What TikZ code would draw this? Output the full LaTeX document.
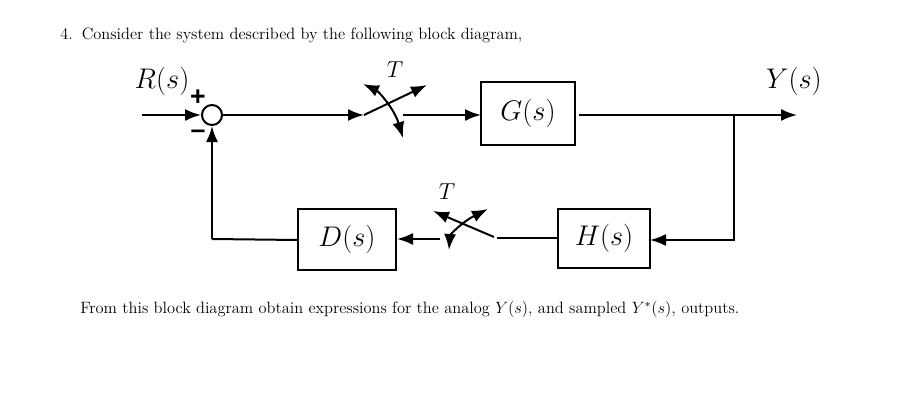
\RequirePackage{fix-cm}
\documentclass[tikz,border=0pt]{standalone}
\usepackage[no-math]{fontspec}
\newfontfamily\signfont{Liberation Sans}
\usetikzlibrary{arrows.meta}
\DeclareMathSizes{21.3}{21.3}{15}{11}
\DeclareMathSizes{17.3}{17.3}{12}{9}
\DeclareMathSizes{12.3}{12.3}{8.6}{6.2}
\begin{document}
\begin{tikzpicture}[x=0.75pt,y=-0.75pt,
  blockbox/.style={draw,line width=1.5pt,inner sep=0pt,font=\fontsize{21.3}{26}\selectfont},
  wire/.style={line width=1.5pt},
  arr/.style={wire,-{Latex[length=12pt,width=9pt]}},
  dblarr/.style={wire,{Latex[length=12pt,width=9pt]}-{Latex[length=12pt,width=9pt]}},
  bodytext/.style={inner sep=0pt,anchor=base west,font=\fontsize{12.3}{14}\selectfont},
  mathlabel/.style={inner sep=0pt,font=\fontsize{21.3}{26}\selectfont},
  smalllabel/.style={inner sep=0pt,font=\fontsize{17.3}{22}\selectfont},
  signlabel/.style={inner sep=0pt,font=\signfont\bfseries\fontsize{20}{20}\selectfont}]
\useasboundingbox (0,0) rectangle (897,414);
\fill[white] (0,0) rectangle (897,414);
\node[bodytext] (head) at (60,40) {4.\hspace{0.55em}Consider the system described by the following block diagram,};
\node[bodytext] (foot) at (80,313) {From this block diagram obtain expressions for the analog $Y(s)$, and sampled $Y^*(s)$, outputs.};
\node[blockbox,minimum width=70.5pt,minimum height=47.25pt] (G) at (528,113.5) {$G(s)$};
\node[blockbox,minimum width=69pt,minimum height=44.25pt] (H) at (604,238.5) {$H(s)$};
\node[blockbox,minimum width=73.5pt,minimum height=45.75pt] (D) at (347,239.5) {$D(s)$};
\node[draw,circle,line width=1.5pt,minimum size=15pt,inner sep=0pt] (sum) at (212,115) {};
\node[mathlabel] (R) at (162,81) {$R(s)$};
\node[mathlabel] (Y) at (794,81) {$Y(s)$};
\node[smalllabel] (T1) at (395,70) {$T$};
\node[smalllabel] (T2) at (447,192) {$T$};
\node[signlabel] (plus) at (198,98) {+};
\node[signlabel] (minus) at (198,134) {–};
% free ends and joints
\coordinate (in) at (142,115);
\coordinate (p1) at (364,115);
\coordinate (a1) at (427,85);
\coordinate (b1s) at (363,84);
\coordinate (b1e) at (403,138);
\coordinate (o1) at (403,115);
\coordinate (g2) at (579,115);
\coordinate (out) at (797,115);
\coordinate (br) at (734,115);
\coordinate (ht) at (734,240);
\coordinate (h1) at (650,240);
\coordinate (h2) at (558,238);
\coordinate (p2) at (497,238);
\coordinate (a2a) at (494,237);
\coordinate (a2b) at (433,211);
\coordinate (b2s) at (449,250);
\coordinate (b2e) at (488,209);
\coordinate (o2) at (440,239);
\coordinate (d1) at (397,239);
\coordinate (d2) at (298,240);
\coordinate (fb) at (212,239);
% connectors
\draw[arr] (in) -- (sum.west);
\draw[arr] (sum.east) -- (p1);
\draw[arr] (p1) -- (a1);
\draw[dblarr] (b1s) .. controls (378,91) and (394,108) .. (b1e);
\draw[arr] (o1) -- (481,115);
\draw[arr] (g2) -- (out);
\draw[arr] (br) -- (ht) -- (h1);
\draw[wire] (h2) -- (p2);
\draw[arr] (a2a) -- (a2b);
\draw[dblarr] (b2s) .. controls (450,235) and (462,222) .. (b2e);
\draw[arr] (o2) -- (d1);
\draw[wire] (d2) -- (fb);
\draw[arr] (fb) -- (sum.south);
\end{tikzpicture}
\end{document}
